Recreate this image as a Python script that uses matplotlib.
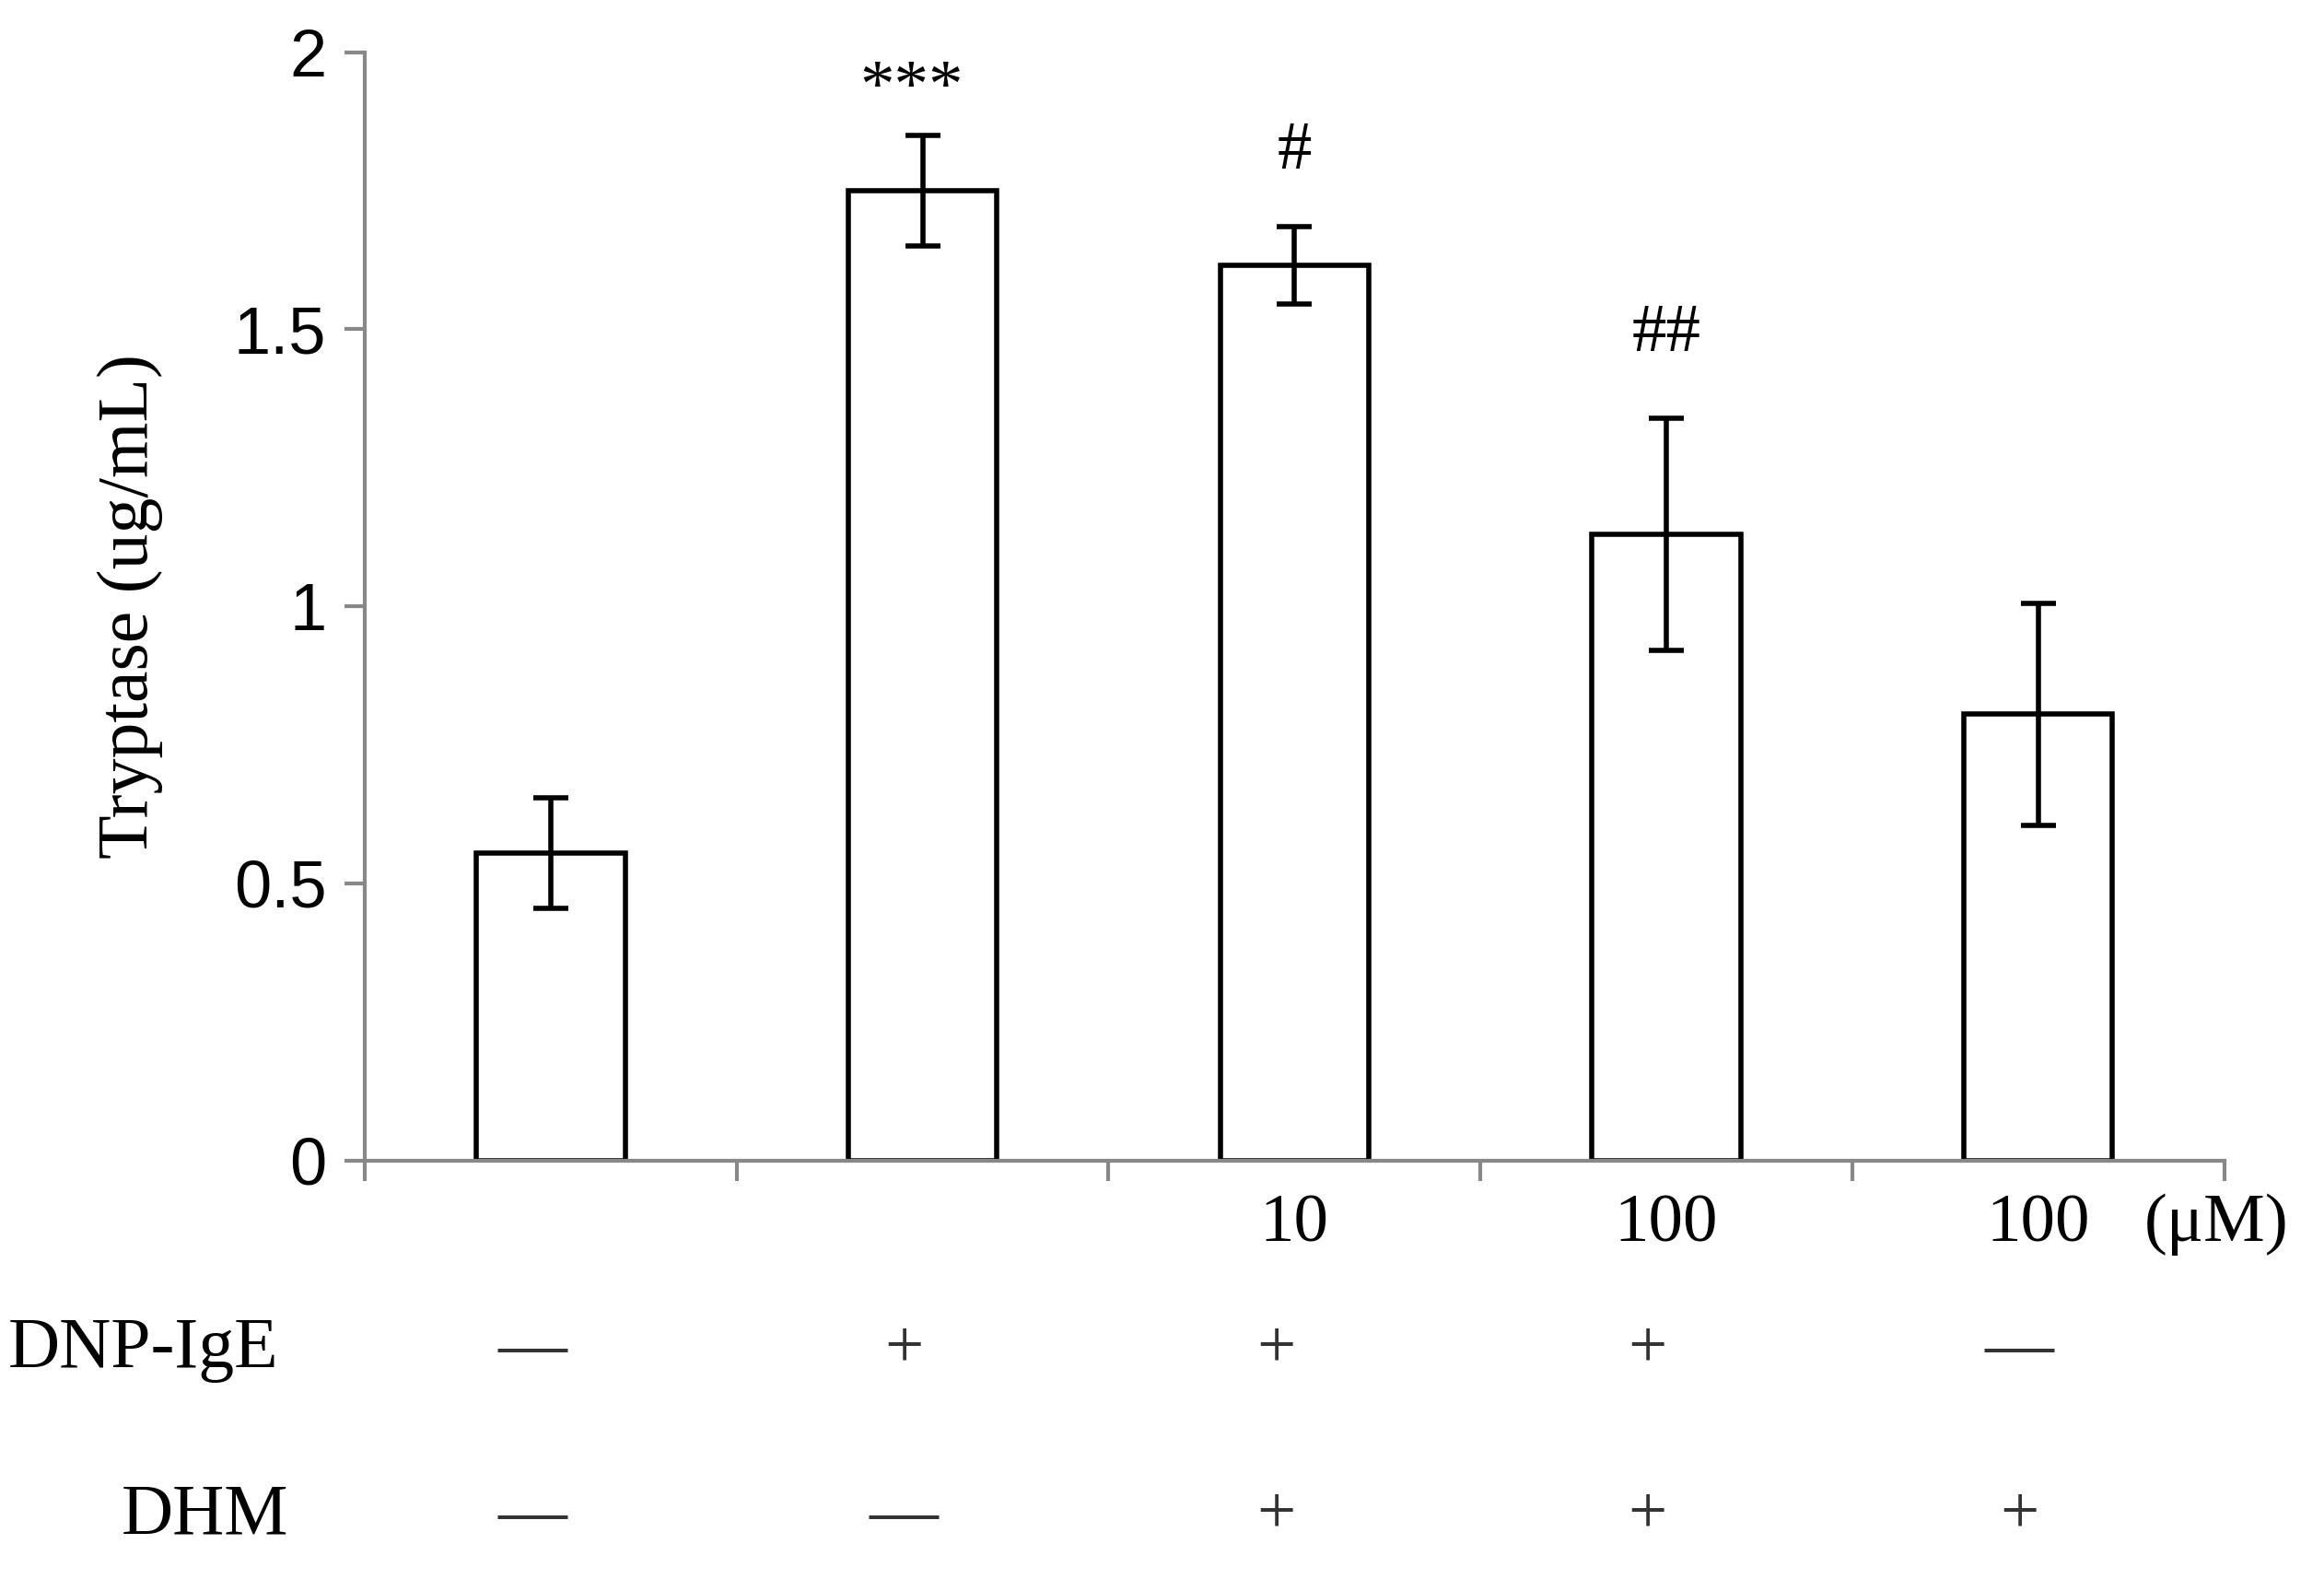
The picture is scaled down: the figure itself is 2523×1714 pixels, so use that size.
import matplotlib
matplotlib.use("Agg")
import matplotlib.pyplot as plt
import matplotlib.transforms as mtransforms

groups = [0, 1, 2, 3, 4]
values = [0.555, 1.75, 1.615, 1.13, 0.805]
errors = [0.10, 0.10, 0.07, 0.21, 0.20]
marks = ["", "***", "#", "##", ""]
mark_y = [0, 1.93, 1.82, 1.49, 0]
dose = ["", "", "10", "100", "100"]
dnp = ["—", "+", "+", "+", "—"]
dhm = ["—", "—", "+", "+", "+"]

serif = "Liberation Serif"
sans = "Liberation Sans"

fig = plt.figure(figsize=(25.23, 17.14), dpi=100)
ax = fig.add_axes([0.157, 0.265, 0.80, 0.702])
ax.bar(groups, values, width=0.4, color="white", edgecolor="black", linewidth=4, zorder=2)
ax.errorbar(groups, values, yerr=errors, fmt="none", ecolor="black", elinewidth=4,
            capsize=14, capthick=4, zorder=3)
ax.set_xlim(-0.5, 4.5)
ax.set_ylim(0, 2)
ax.set_yticks([0, 0.5, 1, 1.5, 2])
ax.set_yticklabels(["0", "0.5", "1", "1.5", "2"], fontfamily=sans, fontsize=52)
ax.set_xticks([-0.5, 0.5, 1.5, 2.5, 3.5, 4.5])
ax.set_xticklabels([])
for s in ["top", "right"]:
    ax.spines[s].set_visible(False)
for s in ["left", "bottom"]:
    ax.spines[s].set_color("#888888")
    ax.spines[s].set_linewidth(3)
ax.tick_params(axis="both", direction="out", length=16, width=3, color="#888888", pad=14)
ax.set_ylabel("Tryptase (ug/mL)", fontfamily=serif, fontsize=56, labelpad=55)

for x, m, y in zip(groups, marks, mark_y):
    if m:
        ax.text(x - 0.03 if m == "***" else x, y, m, ha="center", va="center", fontfamily=serif, fontsize=54)

tr = mtransforms.blended_transform_factory(ax.transData, ax.transAxes)
for x, d, a, b in zip(groups, dose, dnp, dhm):
    if d:
        ax.text(x, -0.058, d, transform=tr, ha="center", va="center", fontfamily=serif, fontsize=54, clip_on=False)
    ax.text(x - 0.05, -0.171, a, transform=tr, ha="center", va="center", fontfamily=serif,
            fontsize=54, color="#333333", clip_on=False)
    ax.text(x - 0.05, -0.321, b, transform=tr, ha="center", va="center", fontfamily=serif,
            fontsize=54, color="#333333", clip_on=False)
ax.text(4.48, -0.058, "(μM)", transform=tr, ha="center", va="center", fontfamily=serif, fontsize=54, clip_on=False)
ax.text(-1.46, -0.171, "DNP-IgE", transform=tr, ha="left", va="center", fontfamily=serif, fontsize=56, clip_on=False)
ax.text(-0.93, -0.321, "DHM", transform=tr, ha="center", va="center", fontfamily=serif, fontsize=56, clip_on=False)

fig.savefig("out.png", dpi=100)
